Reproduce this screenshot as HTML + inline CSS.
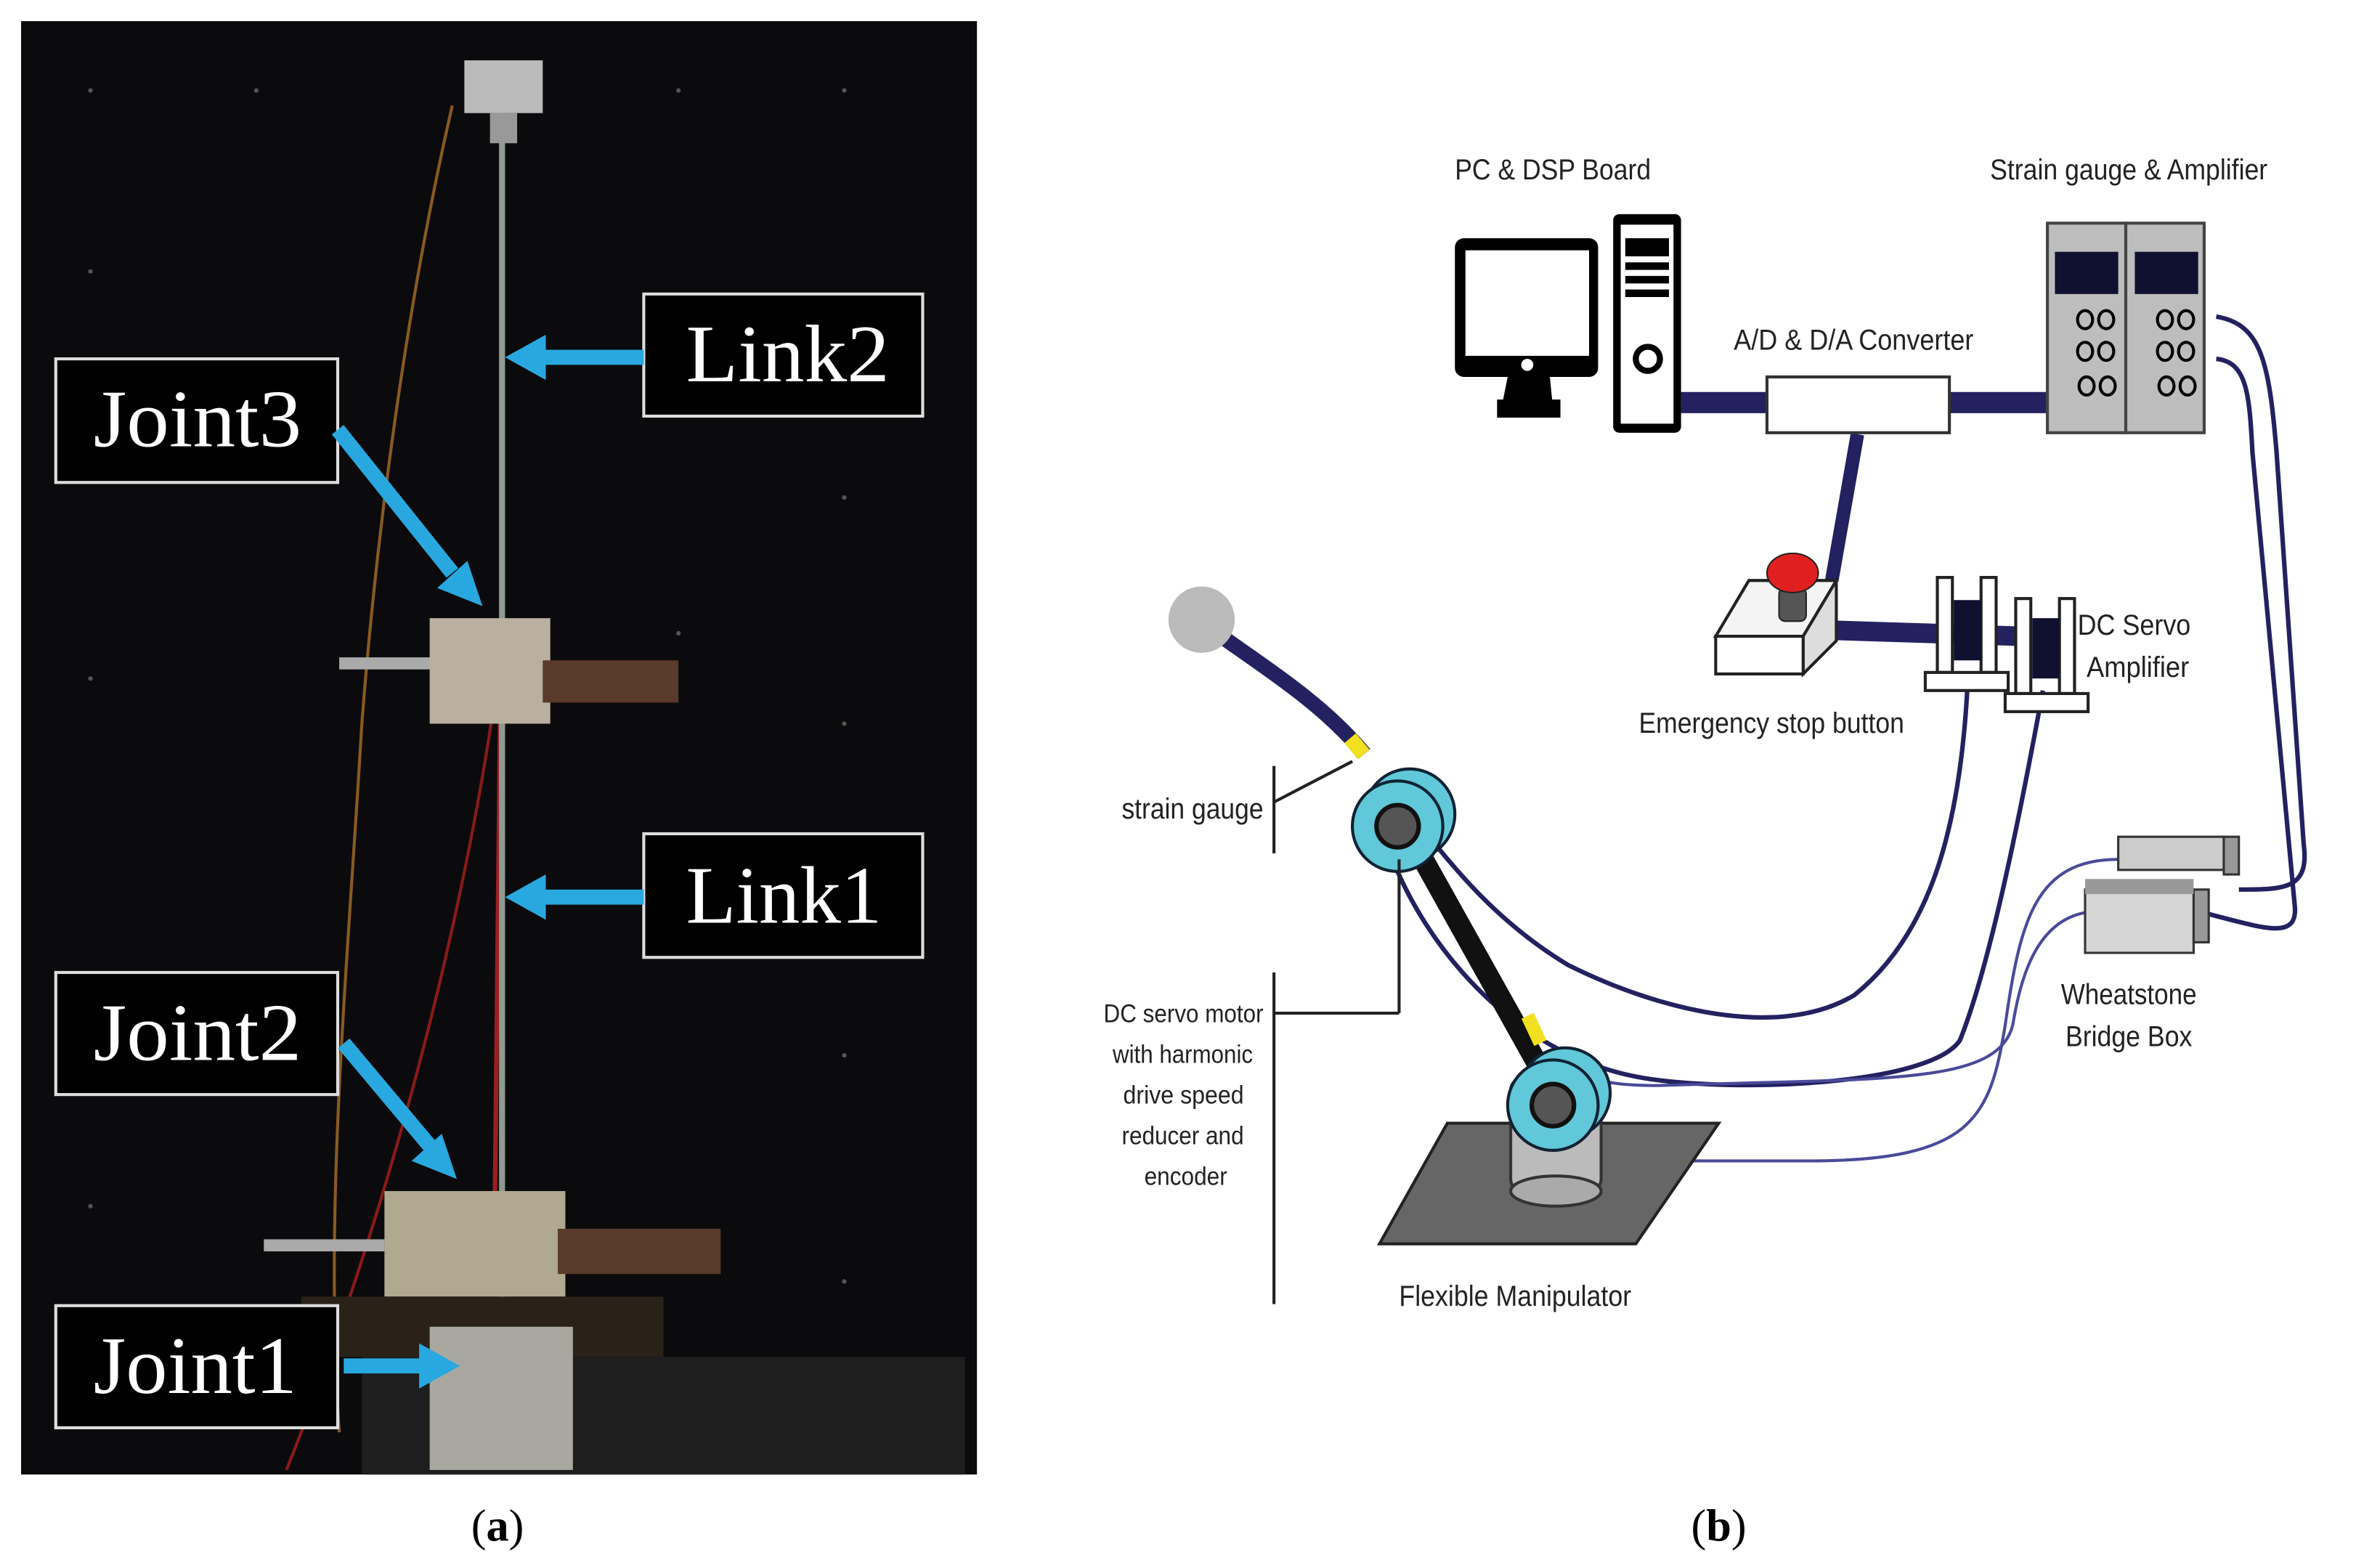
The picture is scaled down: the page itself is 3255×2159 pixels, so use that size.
<!DOCTYPE html>
<html><head><meta charset="utf-8"><style>html,body{margin:0;padding:0;background:#fff}svg{display:block}</style></head>
<body>
<svg width="3255" height="2159" viewBox="0 0 1568 1040" xmlns="http://www.w3.org/2000/svg" font-family="Liberation Sans, sans-serif">
<rect width="1568" height="1040" fill="#fff"/>
<!-- left photo -->
<rect x="14" y="14" width="634" height="964" fill="#0b0b0d"/>
<g fill="#555">
<circle cx="60" cy="60" r="1.5"/><circle cx="170" cy="60" r="1.5"/><circle cx="450" cy="60" r="1.5"/><circle cx="560" cy="60" r="1.5"/>
<circle cx="60" cy="180" r="1.5"/><circle cx="560" cy="330" r="1.5"/><circle cx="60" cy="450" r="1.5"/><circle cx="560" cy="480" r="1.5"/>
<circle cx="560" cy="700" r="1.5"/><circle cx="60" cy="800" r="1.5"/><circle cx="560" cy="850" r="1.5"/><circle cx="450" cy="420" r="1.5"/>
</g>
<path d="M300 70 C270 200 250 350 240 480 C230 650 215 800 225 950" stroke="#8a5a20" stroke-width="2" fill="none"/>
<path d="M330 450 C310 600 260 800 190 975" stroke="#8a1a1a" stroke-width="2" fill="none"/>
<path d="M332 450 L328 820" stroke="#9a2020" stroke-width="3" fill="none"/>
<line x1="333" y1="75" x2="333" y2="870" stroke="#8f9a90" stroke-width="4"/>
<rect x="308" y="40" width="52" height="35" fill="#bbb"/>
<rect x="325" y="75" width="18" height="20" fill="#999"/>
<rect x="225" y="436" width="70" height="8" fill="#aaa"/>
<rect x="285" y="410" width="80" height="70" fill="#b9b0a0"/>
<rect x="360" y="438" width="90" height="28" fill="#5a3a2a"/>
<rect x="175" y="822" width="80" height="8" fill="#aaa"/>
<rect x="255" y="790" width="120" height="70" fill="#b0a890"/>
<rect x="370" y="815" width="108" height="30" fill="#5a3a2a"/>
<rect x="200" y="860" width="240" height="40" fill="#2a2218"/>
<rect x="240" y="900" width="400" height="78" fill="#1e1e1e"/>
<rect x="285" y="880" width="95" height="95" fill="#a8a8a0"/>
<g fill="#000" stroke="#ddd" stroke-width="2">
<rect x="37" y="238" width="187" height="82"/><rect x="427" y="195" width="185" height="81"/>
<rect x="427" y="553" width="185" height="82"/><rect x="37" y="645" width="187" height="81"/>
<rect x="37" y="866" width="187" height="81"/>
</g>
<g fill="#fff" font-family="Liberation Serif, serif" font-size="54">
<text x="62" y="296" textLength="138" lengthAdjust="spacingAndGlyphs">Joint3</text><text x="455" y="253" textLength="135" lengthAdjust="spacingAndGlyphs">Link2</text>
<text x="455" y="612" textLength="130" lengthAdjust="spacingAndGlyphs">Link1</text><text x="62" y="703" textLength="138" lengthAdjust="spacingAndGlyphs">Joint2</text><text x="62" y="924" textLength="135" lengthAdjust="spacingAndGlyphs">Joint1</text>
</g>
<g stroke="#29a8e0" stroke-width="10" fill="#29a8e0">
<line x1="427" y1="237" x2="360" y2="237"/><polygon points="335,237 362,222 362,252" stroke="none"/>
<line x1="427" y1="595" x2="360" y2="595"/><polygon points="335,595 362,580 362,610" stroke="none"/>
<line x1="224" y1="285" x2="300" y2="380"/><polygon points="320,402 290,390 310,372" stroke="none"/>
<line x1="228" y1="692" x2="285" y2="760"/><polygon points="303,782 273,770 293,752" stroke="none"/>
<line x1="228" y1="906" x2="280" y2="906"/><polygon points="305,906 278,891 278,921" stroke="none"/>
</g>
<text x="330" y="1022" font-family="Liberation Serif, serif" font-size="30" text-anchor="middle">(<tspan font-weight="bold">a</tspan>)</text>
<text x="1140" y="1022" font-family="Liberation Serif, serif" font-size="30" text-anchor="middle">(<tspan font-weight="bold">b</tspan>)</text>

<g font-size="19" fill="#222" lengthAdjust="spacingAndGlyphs">
<text x="965" y="119" textLength="130" lengthAdjust="spacingAndGlyphs">PC &amp; DSP Board</text>
<text x="1320" y="119" textLength="184" lengthAdjust="spacingAndGlyphs">Strain gauge &amp; Amplifier</text>
<text x="1150" y="232" textLength="159" lengthAdjust="spacingAndGlyphs">A/D &amp; D/A Converter</text>
<text x="1378" y="421" textLength="75" lengthAdjust="spacingAndGlyphs">DC Servo</text><text x="1384" y="449" textLength="68" lengthAdjust="spacingAndGlyphs">Amplifier</text>
<text x="1087" y="486" textLength="176" lengthAdjust="spacingAndGlyphs">Emergency stop button</text>
<text x="744" y="543" textLength="94" lengthAdjust="spacingAndGlyphs">strain gauge</text>
<text x="1367" y="666" textLength="90" lengthAdjust="spacingAndGlyphs">Wheatstone</text><text x="1370" y="694" textLength="84" lengthAdjust="spacingAndGlyphs">Bridge Box</text>
<text x="928" y="866" textLength="154" lengthAdjust="spacingAndGlyphs">Flexible Manipulator</text>
<g font-size="17"><text x="732" y="678" textLength="106" lengthAdjust="spacingAndGlyphs">DC servo motor</text><text x="738" y="705" textLength="93" lengthAdjust="spacingAndGlyphs">with harmonic</text><text x="745" y="732" textLength="80" lengthAdjust="spacingAndGlyphs">drive speed</text><text x="744" y="759" textLength="81" lengthAdjust="spacingAndGlyphs">reducer and</text><text x="759" y="786" textLength="55" lengthAdjust="spacingAndGlyphs">encoder</text></g>
</g>
<g stroke="#23215f" fill="none">
<line x1="1115" y1="267" x2="1172" y2="267" stroke-width="14"/>
<line x1="1293" y1="267" x2="1360" y2="267" stroke-width="14"/>
<line x1="1232" y1="288" x2="1215" y2="385" stroke-width="9"/>
<line x1="1215" y1="418" x2="1340" y2="422" stroke-width="13"/>
<path d="M810 422 C850 450 880 470 905 500" stroke-width="10"/>
<g stroke-width="3">
<path d="M1470 210 C1500 215 1505 240 1510 300 L1528 560 C1532 590 1515 590 1485 590"/>
<path d="M1470 238 C1490 240 1492 260 1494 300 L1522 600 C1525 625 1500 615 1460 605"/>
<path d="M1305 455 C1300 550 1280 620 1230 660 C1180 690 1100 670 1040 640 C990 610 960 570 940 545"/>
<path d="M1355 458 C1340 540 1320 640 1300 690 C1280 720 1150 725 1090 715 C1000 700 940 620 920 560"/>
</g>
<g stroke-width="2" stroke="#4a4a9a">
<path d="M1405 570 C1350 570 1340 610 1330 680 C1320 740 1310 770 1200 770 L1060 770 C1030 770 1020 760 1020 740"/>
<path d="M1385 605 C1350 610 1340 650 1335 680 C1325 720 1250 715 1100 720 C1060 720 1050 715 1040 700"/>
</g>
</g>
<rect x="965" y="158" width="95" height="92" rx="6" fill="#000"/>
<rect x="972" y="166" width="82" height="70" fill="#fff"/>
<circle cx="1013" cy="242" r="4" fill="#fff"/>
<polygon points="1000,250 1028,250 1030,270 996,270" fill="#000"/>
<rect x="993" y="265" width="42" height="12" fill="#000"/>
<rect x="1070" y="142" width="45" height="145" rx="4" fill="#000"/>
<rect x="1075" y="149" width="35" height="132" fill="#fff"/>
<g fill="#000"><rect x="1078" y="158" width="29" height="12"/><rect x="1078" y="174" width="29" height="5"/><rect x="1078" y="183" width="29" height="5"/><rect x="1078" y="192" width="29" height="5"/></g>
<circle cx="1093" cy="238" r="8" fill="none" stroke="#000" stroke-width="4"/>
<rect x="1172" y="250" width="121" height="37" fill="#fff" stroke="#333" stroke-width="2"/>
<g stroke="#444" stroke-width="2" fill="#bdbdbd"><rect x="1358" y="148" width="52" height="139"/><rect x="1410" y="148" width="52" height="139"/></g>
<rect x="1363" y="167" width="42" height="28" fill="#101030"/><rect x="1416" y="167" width="42" height="28" fill="#101030"/>
<g fill="none" stroke="#000" stroke-width="2">
<ellipse cx="1383" cy="212" rx="5" ry="6"/><ellipse cx="1397" cy="212" rx="5" ry="6"/><ellipse cx="1383" cy="233" rx="5" ry="6"/><ellipse cx="1397" cy="233" rx="5" ry="6"/><ellipse cx="1384" cy="256" rx="5" ry="6"/><ellipse cx="1398" cy="256" rx="5" ry="6"/>
<ellipse cx="1436" cy="212" rx="5" ry="6"/><ellipse cx="1450" cy="212" rx="5" ry="6"/><ellipse cx="1436" cy="233" rx="5" ry="6"/><ellipse cx="1450" cy="233" rx="5" ry="6"/><ellipse cx="1437" cy="256" rx="5" ry="6"/><ellipse cx="1451" cy="256" rx="5" ry="6"/>
</g>
<polygon points="1138,422 1160,385 1218,385 1196,422" fill="#f4f4f4" stroke="#222" stroke-width="2"/>
<polygon points="1196,422 1218,385 1218,425 1196,447" fill="#ddd" stroke="#222" stroke-width="2"/>
<rect x="1138" y="422" width="58" height="25" fill="#fff" stroke="#222" stroke-width="2"/>
<rect x="1180" y="390" width="18" height="22" rx="4" fill="#555" stroke="#222"/>
<ellipse cx="1189" cy="380" rx="17" ry="13" fill="#e02020" stroke="#222"/>
<g stroke="#222" stroke-width="2" fill="#fff">
<rect x="1285" y="383" width="10" height="63"/><rect x="1314" y="383" width="10" height="63"/><rect x="1277" y="446" width="55" height="12"/>
<rect x="1337" y="397" width="10" height="63"/><rect x="1366" y="397" width="10" height="63"/><rect x="1330" y="460" width="55" height="12"/>
</g>
<rect x="1296" y="398" width="18" height="40" fill="#101030"/><rect x="1348" y="410" width="18" height="40" fill="#101030"/>
<g stroke="#333" stroke-width="1.5"><rect x="1405" y="555" width="70" height="22" fill="#ccc"/><rect x="1475" y="555" width="10" height="25" fill="#999"/>
<rect x="1383" y="590" width="72" height="42" fill="#d5d5d5"/><rect x="1455" y="590" width="10" height="35" fill="#999"/></g>
<rect x="1383" y="583" width="72" height="10" fill="#999"/>
<polygon points="960,745 1140,745 1085,825 915,825" fill="#666" stroke="#222" stroke-width="2"/>
<circle cx="797" cy="411" r="22" fill="#bbb"/>
<line x1="930" y1="545" x2="1025" y2="715" stroke="#111" stroke-width="14"/>
<rect x="1002" y="715" width="60" height="75" rx="8" fill="#bbb" stroke="#333" stroke-width="2"/>
<ellipse cx="1032" cy="790" rx="30" ry="10" fill="#aaa" stroke="#333" stroke-width="2"/>
<circle cx="1038" cy="725" r="30" fill="#60c8d8" stroke="#123" stroke-width="2"/>
<circle cx="1030" cy="733" r="30" fill="#60c8d8" stroke="#123" stroke-width="2"/>
<circle cx="1030" cy="733" r="14" fill="#555" stroke="#111" stroke-width="3"/>
<circle cx="935" cy="540" r="30" fill="#60c8d8" stroke="#123" stroke-width="2"/>
<circle cx="927" cy="548" r="30" fill="#60c8d8" stroke="#123" stroke-width="2"/>
<circle cx="927" cy="548" r="14" fill="#555" stroke="#111" stroke-width="3"/>
<rect x="895" y="488" width="10" height="14" fill="#f0e020" transform="rotate(-40 900 495)"/>
<rect x="1013" y="673" width="9" height="20" fill="#f0e020" transform="rotate(-25 1017 683)"/>
<g stroke="#222" stroke-width="2" fill="none">
<line x1="845" y1="508" x2="845" y2="566"/><line x1="845" y1="532" x2="897" y2="505"/>
<line x1="845" y1="645" x2="845" y2="865"/><line x1="845" y1="672" x2="928" y2="672"/><line x1="928" y1="672" x2="928" y2="570"/>
</g>
</svg>
</body></html>
